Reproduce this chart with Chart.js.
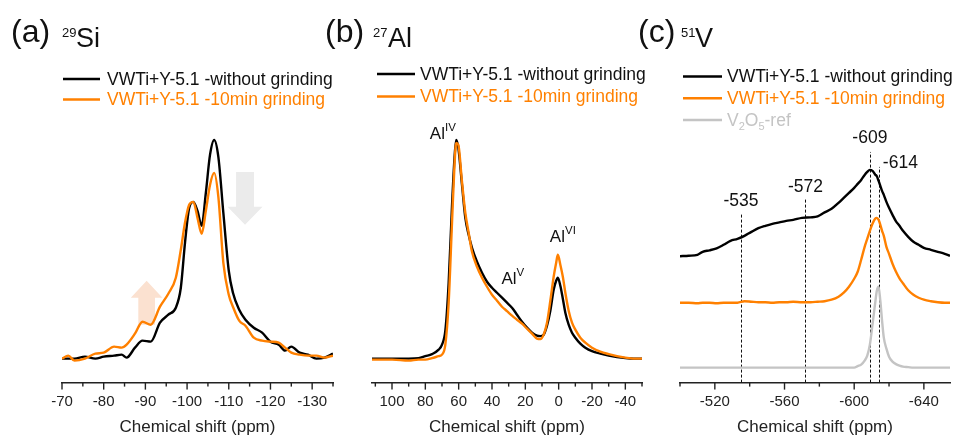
<!DOCTYPE html>
<html><head><meta charset="utf-8">
<script src="https://cdn.jsdelivr.net/npm/chart.js@4.4.1/dist/chart.umd.min.js"></script>
<style>
html,body{margin:0;padding:0;background:#fff;width:958px;height:441px;overflow:hidden}
canvas{position:absolute;left:0;top:0}
</style></head><body>
<canvas id="ca" width="958" height="441"></canvas>
<canvas id="cb" width="958" height="441"></canvas>
<canvas id="cc" width="958" height="441"></canvas>
<script>
// ---------- DATA ----------
const legendWithout = 'VWTi+Y-5.1 -without grinding';
const legendGround = 'VWTi+Y-5.1 -10min grinding';
const axisTitle = 'Chemical shift (ppm)';

// (a) 29Si
const siShift = [-70,-71.5,-73,-75.5,-78,-80,-82.5,-84.3,-85.5,-87.5,-89.3,-91.3,-93.5,-95.5,-97.3,-98.5,-99.5,-100.5,-101.5,-102.5,-103.5,-104.5,-105.5,-106.5,-107.5,-108.7,-110,-111,-112.5,-114,-116,-118,-120,-122,-123.5,-125,-127,-129,-131,-133,-135];
const siWithout = [24,24,24,26,24,26,27,28,25,35,42,41,60,68,75,95,140,175,181,172,157,190,228,243,226,170,112,90,73,63,55,50,41,38,32,36,30,28,24,25,29];
const siGround = [24,27,22,24,29,30,36,35,38,49,61,58,76,89,105,133,160,178,181,165,149,172,198,210,186,120,88,76,62,57,45,42,41,40,35,30,28,27,27,25,27];
const siMajorTicks = [-70,-80,-90,-100,-110,-120,-130];
const siMinorTicks = [-75,-85,-95,-105,-115,-125,-135];
const siTickLabels = ['-70','-80','-90','-100','-110','-120','-130'];

// (b) 27Al
const alShift = [112,100,90,84,80,76,72,70,68,66,64,62.5,61.5,60.2,58,56,54,52,49,46,43,40,37,34,31,28,25,22,19,16,13,11,9,7,5,3,1.5,0.5,-1,-2.5,-4,-6,-8,-10,-13,-16,-20,-25,-30,-35,-40,-45,-50];
const alWithout = [24,24,24,24.5,26.5,28.5,33,38,52,100,177,225,243,235,198,165,148,135,121,110,101,95,90,85,80,75,68,61,55,50,47,46.5,48,57,72,93,102,105,97,84,70,58,50,45,39,35,31.5,29,27,25.5,24.5,24,24];
const alGround = [23,23,22,23,23,24.5,26.5,28,38,80,160,218,240,238,201,170,150,131,116,105,96,88,82,76,71.6,67,63,59,54,49,44,43.5,48,60,82,106,120,128,118,106,90,72,60,53,45,40,35,31,28.5,26.5,25,24,24];
const alMajorTicks = [100,80,60,40,20,0,-20,-40];
const alMinorTicks = [110,90,70,50,30,10,-10,-30,-50];
const alTickLabels = ['100','80','60','40','20','0','-20','-40'];
const alSites = ['IV','V','VI'];

// (c) 51V
const vShift = [-500,-505,-510,-513,-517,-521,-525,-529,-533,-537,-541,-545,-549,-553,-557,-561,-565,-570,-575,-579,-583,-587,-591,-594,-597,-600,-602,-604,-606,-607.5,-609,-610.5,-612,-613,-614,-615,-616,-617,-618.5,-620,-622,-624,-626,-628,-631,-634,-637,-640,-644,-648,-652,-655];
const vWithout = [126.6,127,128,131,132.5,134.5,138,142,144,147,151,154.6,157,159,160.5,162,163,165,165.5,166.5,170.5,174,180,185,190,195,199,203,208,211,213,212,208.5,206.6,202,197,192,188,181,175,168,161.5,157,152,146,141,138,135,133,131,129,127];
const vGround = [80,80,79.5,80,80,79.5,80,80,80,81.5,81,80.5,80.5,80,80.5,80.5,81,80.5,80.5,81,81.5,83,86,90,96,104,111,123,136,144,152,159,164,165,163,158,152,147,136,129,119,111,104.5,99.5,92.5,88,85,83,81.5,80.5,80,80];
const vRef = [15,15,15,15,15,15,15,15,15,15,15,15,15,15,15,15,15,15,15,15,15,15,15,15,15,15,16.5,18,22,27,38,58,79,92,96,82,62,45,34,26,21,18.5,17,16,15.5,15,15,15,15,15,15,15];
const vPeaks = [-535,-572,-609,-614];
const vMajorTicks = [-520,-560,-600,-640];
const vMinorTicks = [-500,-540,-580,-620];
const vTickLabels = ['-520','-560','-600','-640'];

// ---------- STYLE ----------
const FONT = "'Liberation Sans', Arial, Helvetica, sans-serif";
const BLACK = '#000000', ORANGE = '#ff8000', GRAY = '#c4c4c4', TEXT = '#111111';
const f = s => s + 'px ' + FONT;

function richWidth(ctx, parts){ let w = 0; parts.forEach(p => { ctx.font = f(p.size); w += ctx.measureText(p.text).width; }); return w; }
function drawRich(ctx, x, y, parts, color, align){
  if (align === 'center') x -= richWidth(ctx, parts) / 2;
  ctx.textAlign = 'left'; ctx.textBaseline = 'alphabetic';
  parts.forEach(p => { ctx.font = f(p.size); ctx.fillStyle = p.color || color; ctx.fillText(p.text, x, y + (p.dy || 0)); x += ctx.measureText(p.text).width; });
}

const decor = {
  id: 'panelDecor',
  beforeDatasetsDraw(chart, args, o){
    const ctx = chart.ctx, xs = chart.scales.x, ys = chart.scales.y;
    (o.arrows || []).forEach(a => {
      const cx = xs.getPixelForValue(a.at);
      const hw = Math.abs(xs.getPixelForValue(a.at + a.headHalf) - cx);
      const sw = Math.abs(xs.getPixelForValue(a.at + a.shaftHalf) - cx);
      const tip = ys.getPixelForValue(a.tip), base = ys.getPixelForValue(a.headBase), tail = ys.getPixelForValue(a.tail);
      ctx.save(); ctx.fillStyle = a.color; ctx.beginPath();
      ctx.moveTo(cx - sw, tail); ctx.lineTo(cx - sw, base); ctx.lineTo(cx - hw, base); ctx.lineTo(cx, tip);
      ctx.lineTo(cx + hw, base); ctx.lineTo(cx + sw, base); ctx.lineTo(cx + sw, tail); ctx.closePath(); ctx.fill(); ctx.restore();
    });
    (o.vlines || []).forEach(v => {
      const x = Math.round(xs.getPixelForValue(v.at)) + 0.5;
      ctx.save(); ctx.strokeStyle = '#111'; ctx.lineWidth = 1; ctx.setLineDash([3, 2]);
      ctx.beginPath(); ctx.moveTo(x, ys.getPixelForValue(0)); ctx.lineTo(x, ys.getPixelForValue(v.top)); ctx.stroke(); ctx.restore();
    });
  },
  afterDraw(chart, args, o){
    const ctx = chart.ctx, xs = chart.scales.x, ys = chart.scales.y;
    ctx.save();
    const axisY = xs.top;
    ctx.strokeStyle = '#222'; ctx.lineWidth = 1.4;
    o.major.forEach(v => { const x = xs.getPixelForValue(v); ctx.beginPath(); ctx.moveTo(x, axisY); ctx.lineTo(x, axisY + 7); ctx.stroke(); });
    o.minor.forEach(v => { const x = xs.getPixelForValue(v); ctx.beginPath(); ctx.moveTo(x, axisY); ctx.lineTo(x, axisY + 4); ctx.stroke(); });
    o.title.forEach(p => { ctx.font = f(p.size); ctx.fillStyle = TEXT; ctx.textAlign = 'left'; ctx.textBaseline = 'alphabetic'; ctx.fillText(p.text, p.x, p.y); });
    const L = o.legend;
    L.rows.forEach(r => {
      ctx.strokeStyle = r.color; ctx.lineWidth = 2.5; ctx.setLineDash([]);
      ctx.beginPath(); ctx.moveTo(L.x0, r.y); ctx.lineTo(L.x1, r.y); ctx.stroke();
      drawRich(ctx, L.textX, r.y + 5.5, r.parts, r.textColor, 'left');
    });
    (o.labels || []).forEach(l => {
      drawRich(ctx, xs.getPixelForValue(l.at), ys.getPixelForValue(l.base), l.parts, TEXT, 'center');
    });
    ctx.restore();
  }
};
Chart.register(decor);

function xScale(min, max, majors, minors, labels){
  const all = majors.concat(minors).sort((a, b) => b - a);
  return {
    type: 'linear', reverse: true, min: min, max: max,
    afterBuildTicks: s => { s.ticks = all.map(v => ({ value: v })); },
    ticks: { autoSkip: false, maxRotation: 0, padding: 3, color: '#222', font: { family: FONT, size: 15 },
      callback: v => { const i = majors.indexOf(v); return i >= 0 ? labels[i] : ''; } },
    grid: { display: false, drawTicks: true, tickLength: 7 },
    border: { display: true, color: '#222', width: 1.6 },
    title: { display: true, text: axisTitle, color: '#222', font: { family: FONT, size: 17 }, padding: { top: 4, bottom: 0 } }
  };
}
const yScale = { display: false, min: 0, max: 273 };
const pts = (xs, ys) => xs.map((x, i) => ({ x: x, y: ys[i] }));
const line = (label, data, color) => ({ label: label, data: data, borderColor: color, borderWidth: 2.4, pointRadius: 0, fill: false, cubicInterpolationMode: 'monotone' });

function makeChart(id, datasets, scaleX, padding, decorOpts){
  return new Chart(document.getElementById(id), {
    type: 'line',
    data: { datasets: datasets },
    options: {
      responsive: false, animation: false, devicePixelRatio: 1,
      layout: { padding: padding },
      scales: { x: scaleX, y: yScale },
      plugins: { legend: { display: false }, tooltip: { enabled: false }, panelDecor: decorOpts }
    }
  });
}

// (a)
makeChart('ca',
  [line(legendGround, pts(siShift, siGround), ORANGE), line(legendWithout, pts(siShift, siWithout), BLACK)],
  xScale(-135, -70, siMajorTicks, siMinorTicks, siTickLabels),
  { left: 62, right: 625, top: 110, bottom: 3 },
  {
    major: siMajorTicks, minor: siMinorTicks,
    title: [{ text: '(a)', x: 11, y: 42, size: 32 }, { text: '29', x: 62, y: 37, size: 13 }, { text: 'Si', x: 76, y: 47, size: 27 }],
    legend: { x0: 63, x1: 100, textX: 107, rows: [
      { y: 79, color: BLACK, textColor: TEXT, parts: [{ text: legendWithout, size: 17.5 }] },
      { y: 99.5, color: ORANGE, textColor: ORANGE, parts: [{ text: legendGround, size: 17.5 }] } ] },
    arrows: [
      { at: -90.3, headHalf: 3.8, shaftHalf: 2.0, tip: 102, headBase: 85, tail: 58, color: '#fbe1d0' },
      { at: -113.9, headHalf: 4.2, shaftHalf: 2.15, tip: 158, headBase: 176, tail: 211, color: '#ebebeb' } ]
  });

// (b)
makeChart('cb',
  [line(legendGround, pts(alShift, alGround), ORANGE), line(legendWithout, pts(alShift, alWithout), BLACK)],
  xScale(-50, 112, alMajorTicks, alMinorTicks, alTickLabels),
  { left: 372, right: 316, top: 110, bottom: 3 },
  {
    major: alMajorTicks, minor: alMinorTicks,
    title: [{ text: '(b)', x: 325, y: 42, size: 32 }, { text: '27', x: 373, y: 37, size: 13 }, { text: 'Al', x: 388, y: 47, size: 27 }],
    legend: { x0: 377, x1: 415, textX: 420, rows: [
      { y: 74, color: BLACK, textColor: TEXT, parts: [{ text: legendWithout, size: 17.5 }] },
      { y: 96.5, color: ORANGE, textColor: ORANGE, parts: [{ text: legendGround, size: 17.5 }] } ] },
    labels: [
      { at: 69.5, base: 244, parts: [{ text: 'Al', size: 17 }, { text: alSites[0], size: 11.5, dy: -8 }] },
      { at: 27.5, base: 99, parts: [{ text: 'Al', size: 17 }, { text: alSites[1], size: 11.5, dy: -8 }] },
      { at: -2.5, base: 141, parts: [{ text: 'Al', size: 17 }, { text: alSites[2], size: 11.5, dy: -8 }] } ]
  });

// (c)
makeChart('cc',
  [line(legendWithout, pts(vShift, vWithout), BLACK), line(legendGround, pts(vShift, vGround), ORANGE), line('V2O5-ref', pts(vShift, vRef), GRAY)],
  xScale(-655, -500, vMajorTicks, vMinorTicks, vTickLabels),
  { left: 680, right: 8, top: 110, bottom: 3 },
  {
    major: vMajorTicks, minor: vMinorTicks,
    title: [{ text: '(c)', x: 638, y: 42, size: 32 }, { text: '51', x: 681, y: 37, size: 13 }, { text: 'V', x: 695, y: 47, size: 27 }],
    legend: { x0: 683, x1: 722, textX: 727, rows: [
      { y: 76.5, color: BLACK, textColor: TEXT, parts: [{ text: legendWithout, size: 17.5 }] },
      { y: 98.3, color: ORANGE, textColor: ORANGE, parts: [{ text: legendGround, size: 17.5 }] },
      { y: 120, color: GRAY, textColor: GRAY, parts: [{ text: 'V', size: 17.5 }, { text: '2', size: 11, dy: 4 }, { text: 'O', size: 17.5 }, { text: '5', size: 11, dy: 4 }, { text: '-ref', size: 17.5 }] } ] },
    vlines: [{ at: vPeaks[0], top: 170 }, { at: vPeaks[1], top: 185 }, { at: vPeaks[2], top: 231 }, { at: vPeaks[3], top: 216 }],
    labels: [
      { at: vPeaks[0], base: 177, parts: [{ text: String(vPeaks[0]), size: 17.5 }] },
      { at: vPeaks[1], base: 191, parts: [{ text: String(vPeaks[1]), size: 17.5 }] },
      { at: vPeaks[2], base: 240, parts: [{ text: String(vPeaks[2]), size: 17.5 }] },
      { at: -626.5, base: 215, parts: [{ text: String(vPeaks[3]), size: 17.5 }] } ]
  });
</script>
</body></html>
